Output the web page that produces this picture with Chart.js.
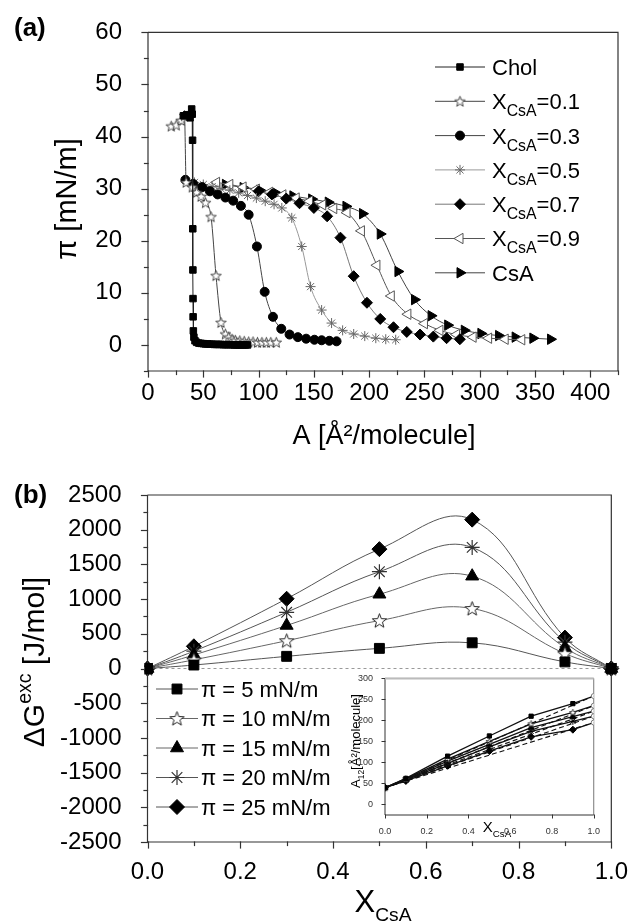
<!DOCTYPE html>
<html>
<head>
<meta charset="utf-8">
<script src="https://cdn.jsdelivr.net/npm/chart.js@4.4.0/dist/chart.umd.min.js"></script>
<style>
    body { margin: 0; background: #fff; }
    #wrap { position: relative; width: 636px; height: 923px; overflow: hidden; background: #fff; }
    #wrap canvas { position: absolute; }
</style>
</head>
<body>
<div id="wrap">
    <canvas id="chartA" width="636" height="460" style="left:0;top:0"></canvas>
    <canvas id="chartB" width="636" height="463" style="left:0;top:460px"></canvas>
    <canvas id="chartInset" width="268" height="171" style="left:335px;top:669px"></canvas>
</div>
<script>
const fontFam = '"Liberation Sans", Arial, Helvetica, sans-serif';

// ---- (a) isotherms, pairs of [A (Å²/molecule), π (mN/m)] ----
const isoChol = [[32, 44.0], [35, 44.2], [38, 43.6], [39.5, 45.3], [40, 44.3], [40.3, 39.3], [40.5, 22.3],
    [40.6, 14.4], [40.7, 8.9], [40.8, 5.4], [41, 2.7], [41.5, 1.5], [42.5, 0.8], [44, 0.5], [46, 0.35],
    [48, 0.3], [50, 0.25], [52, 0.2], [54, 0.2], [56, 0.15], [58, 0.15], [60, 0.1], [62, 0.1], [64, 0.1],
    [66, 0.1], [68, 0.05], [70, 0.05], [72, 0.05], [74, 0.05], [76, 0.05], [78, 0], [80, 0], [82, 0],
    [84, 0], [86, 0], [88, 0], [90, 0]];
const isoX01 = [[21, 42.0], [25.5, 42.2], [30, 43.1], [33, 44.0], [34.5, 31.2], [40, 30.3], [44, 29.3],
    [48, 28.5], [52, 27.3], [57, 24.6], [61.5, 13.3], [66, 4.3], [70, 2.1], [73, 1.5], [76, 1.1], [79, 0.9],
    [83, 0.8], [87, 0.7], [91, 0.6], [95, 0.6], [99, 0.5], [103, 0.5], [107, 0.5], [111, 0.5], [116, 0.5]];
const isoX03 = [[33.8, 31.7], [41, 30.9], [49, 30.3], [56, 29.5], [63, 28.9], [70, 28.3], [77, 27.7],
    [84, 26.7], [91, 25.0], [98.5, 18.9], [105.5, 10.2], [113, 5.4], [120.5, 3.1], [128, 2.0], [135.5, 1.5],
    [143, 1.2], [150.5, 1.0], [157, 0.9], [164, 0.8], [170.5, 0.7]];
const isoX05 = [[42, 31.2], [50, 30.8], [58, 30.4], [66, 30.0], [74, 29.7], [82, 29.2], [90, 28.7],
    [98, 28.2], [106, 27.6], [114, 27.0], [121, 26.3], [130, 24.4], [139, 18.9], [147, 11.2], [157, 6.7],
    [166, 4.2], [176, 2.8], [186, 2.1], [196, 1.7], [206, 1.3], [215, 1.1], [224, 1.0]];
const isoX07 = [[100, 29.5], [112, 28.9], [125, 28.1], [137, 27.2], [150, 26.3], [162, 24.7], [174, 20.6],
    [186, 13.2], [198, 8.1], [210, 5.0], [222, 3.4], [234, 2.5], [246, 2.0], [258, 1.6], [270, 1.3], [282, 1.1]];
const isoX09 = [[62, 31.2], [74, 30.8], [86, 30.3], [98, 29.9], [110, 29.3], [122, 28.8], [134, 28.2],
    [146, 27.6], [158, 26.9], [168, 26.2], [180, 25.4], [193, 21.9], [207, 15.3], [220, 9.4], [235, 5.9],
    [250, 4.1], [264, 2.8], [279, 2.0], [294, 1.5], [308, 1.3], [323, 1.1], [338, 1.0]];
const isoCsA = [[70, 30.8], [86, 30.2], [101, 29.7], [116, 29.1], [131, 28.6], [148, 28.0], [163, 27.4],
    [179, 26.6], [194, 25.2], [210, 21.3], [226, 14.1], [241, 8.7], [256, 5.6], [271, 3.8], [286, 2.8],
    [301, 2.2], [317, 1.8], [332, 1.5], [348, 1.3], [364, 1.1]];
const areaTicks = [0, 50, 100, 150, 200, 250, 300, 350, 400];
const piTicks = [0, 10, 20, 30, 40, 50, 60];

// ---- (b) excess Gibbs energy vs X_CsA ----
const xCsA = [0, 0.1, 0.3, 0.5, 0.7, 0.9, 1.0];
const gExc5 = [0, 50, 175, 290, 370, 95, 0];
const gExc10 = [0, 125, 400, 690, 865, 215, 0];
const gExc15 = [0, 195, 620, 1070, 1330, 300, 0];
const gExc20 = [0, 250, 810, 1395, 1745, 380, 0];
const gExc25 = [0, 320, 1005, 1720, 2145, 445, 0];
const fracTicks = [0, 0.2, 0.4, 0.6, 0.8, 1.0];
const gTicks = [-2500, -2000, -1500, -1000, -500, 0, 500, 1000, 1500, 2000, 2500];

// ---- inset: mean area A12 vs X_CsA (solid = measured, dashed = ideal) ----
const a12_5 = [40, 62, 115, 163, 210, 240, 258];
const a12_10 = [40, 61, 108, 150, 192, 219, 235];
const a12_15 = [40, 59, 103, 143, 183, 209, 222];
const a12_20 = [40, 58, 98, 137, 174, 198, 210];
const a12_25 = [40, 56, 92, 127, 161, 178, 195];
const idealX = [0, 1];
const insetYTicks = [0, 50, 100, 150, 200, 250, 300];
const insetXTicks = [0, 0.2, 0.4, 0.6, 0.8, 1.0];

// legend / title texts; a part is a string or [text, 'sub'|'sup']
const legendA = ['Chol', ['X', ['CsA', 'sub'], '=0.1'], ['X', ['CsA', 'sub'], '=0.3'], ['X', ['CsA', 'sub'], '=0.5'],
    ['X', ['CsA', 'sub'], '=0.7'], ['X', ['CsA', 'sub'], '=0.9'], 'CsA'];
const legendB = ['\u03c0 = 5 mN/m', '\u03c0 = 10 mN/m', '\u03c0 = 15 mN/m', '\u03c0 = 20 mN/m', '\u03c0 = 25 mN/m'];

function starImage(r, fill, stroke, lw) {
    const c = document.createElement('canvas');
    const s = Math.ceil(2 * r + 2 * lw + 2);
    c.width = c.height = s;
    const g = c.getContext('2d');
    g.translate(s / 2, s / 2 + r * 0.08);
    g.beginPath();
    for (let i = 0; i < 10; i++) {
        const rr = i % 2 ? r * 0.42 : r;
        const a = -Math.PI / 2 + i * Math.PI / 5;
        g.lineTo(rr * Math.cos(a), rr * Math.sin(a));
    }
    g.closePath();
    g.fillStyle = fill;
    g.fill();
    g.lineWidth = lw;
    g.strokeStyle = stroke;
    g.stroke();
    return c;
}

function toPoints(xs, ys) {
    return ys.map((y, i) => ({ x: xs[i], y: y }));
}

function series(points, st) {
    return {
        data: points,
        showLine: true,
        borderColor: st.line || '#444',
        borderWidth: st.lineWidth || 1,
        borderDash: st.dash || [],
        pointStyle: st.style,
        pointRadius: st.r || 0,
        pointRotation: st.rot || 0,
        pointBackgroundColor: st.fill || '#000',
        pointBorderColor: st.stroke || '#000',
        pointBorderWidth: st.bw === undefined ? 1 : st.bw,
        tension: st.tension || 0,
        cubicInterpolationMode: st.mono ? 'monotone' : 'default',
        clip: st.clip === undefined ? 0 : st.clip
    };
}

function richDraw(ctx, parts, x, y, size, align, opt) {
    opt = opt || {};
    const list = Array.isArray(parts) ? parts : [parts];
    const subScale = opt.subScale || 0.65;
    const segs = list.map(p => typeof p === 'string' ? { t: p, m: '' } : { t: p[0], m: p[1] });
    const fontOf = s => (opt.bold ? 'bold ' : '') + (s.m ? size * subScale : size) + 'px ' + fontFam;
    let w = 0;
    segs.forEach(s => {
        ctx.font = fontOf(s);
        s.w = ctx.measureText(s.t).width;
        w += s.w;
    });
    let cx = align === 'center' ? x - w / 2 : x;
    ctx.textAlign = 'left';
    ctx.textBaseline = 'alphabetic';
    ctx.fillStyle = opt.color || '#000';
    segs.forEach(s => {
        ctx.font = fontOf(s);
        const dy = s.m === 'sub' ? size * (opt.subDrop || 0.3) : s.m === 'sup' ? -size * 0.42 : 0;
        ctx.fillText(s.t, cx, y + dy);
        cx += s.w;
    });
}

function drawText(chart, items) {
    const ctx = chart.ctx;
    items.forEach(it => {
        ctx.save();
        ctx.translate(it.x, it.y);
        if (it.rotate) ctx.rotate(it.rotate);
        richDraw(ctx, it.parts, 0, 0, it.size, it.align || 'center', it);
        ctx.restore();
    });
}

function drawFrame(chart, o) {
    const { ctx, chartArea: a, scales } = chart;
    ctx.save();
    ctx.lineWidth = o.width || 1.2;
    ctx.strokeStyle = o.color || '#333';
    ctx.lineCap = 'square';
    ['x', 'y'].forEach(id => {
        const s = scales[id];
        const vals = s.ticks.map(t => t.value);
        const step = vals[1] - vals[0];
        const marks = vals.map(v => [v, o.major]);
        if (o.minor) {
            for (let v = vals[0] - step / 2; v <= s.max + 1e-9; v += step) {
                if (v >= s.min - 1e-9) marks.push([v, o.minor]);
            }
        }
        marks.forEach(([v, len]) => {
            const p = Math.round(s.getPixelForValue(v)) + 0.5;
            ctx.beginPath();
            if (id === 'x') {
                ctx.moveTo(p, a.bottom);
                ctx.lineTo(p, a.bottom + len);
            } else {
                ctx.moveTo(a.left, p);
                ctx.lineTo(a.left - len, p);
            }
            ctx.stroke();
        });
    });
    ctx.lineCap = 'butt';
    ctx.strokeStyle = o.sideColor || ctx.strokeStyle;
    ctx.beginPath();
    ctx.moveTo(a.left, a.top);
    ctx.lineTo(a.right, a.top);
    ctx.lineTo(a.right, a.bottom);
    ctx.stroke();
    ctx.strokeStyle = o.color || '#333';
    ctx.beginPath();
    ctx.moveTo(a.left, a.top);
    ctx.lineTo(a.left, a.bottom);
    ctx.lineTo(a.right, a.bottom);
    ctx.stroke();
    if (o.topColor) {
        ctx.strokeStyle = o.topColor;
        ctx.lineWidth = 2;
        ctx.beginPath();
        ctx.moveTo(a.left, a.top);
        ctx.lineTo(a.right, a.top);
        ctx.stroke();
    }
    ctx.restore();
}

function drawLegend(chart, labels, lg) {
    const ctx = chart.ctx;
    labels.forEach((lab, i) => {
        const ds = chart.data.datasets[i];
        const y = lg.y0 + i * lg.dy;
        ctx.save();
        ctx.strokeStyle = ds.borderColor;
        ctx.lineWidth = 1;
        ctx.beginPath();
        ctx.moveTo(lg.x0, y);
        ctx.lineTo(lg.x1, y);
        ctx.stroke();
        ctx.fillStyle = ds.pointBackgroundColor;
        ctx.strokeStyle = ds.pointBorderColor;
        ctx.lineWidth = ds.pointBorderWidth;
        Chart.helpers.drawPoint(ctx, {
            pointStyle: ds.pointStyle,
            rotation: ds.pointRotation,
            radius: lg.r || ds.pointRadius,
            borderWidth: ds.pointBorderWidth
        }, (lg.x0 + lg.x1) / 2, y);
        ctx.restore();
        richDraw(chart.ctx, lab, lg.tx, y + lg.size * 0.36, lg.size, 'left', { subScale: 0.72, subDrop: 0.32 });
    });
}

function linAxis(min, max, ticks, opt) {
    return {
        type: 'linear',
        min: min,
        max: max,
        afterBuildTicks: s => { s.ticks = ticks.map(v => ({ value: v })); },
        afterFit: opt.fit,
        grid: { display: false },
        border: { display: false },
        ticks: {
            font: { family: fontFam, size: opt.size },
            color: opt.color || '#000',
            padding: opt.pad,
            maxRotation: 0,
            autoSkip: false,
            callback: opt.fmt || (v => String(v))
        }
    };
}

const baseOpts = {
    responsive: false,
    animation: false,
    events: [],
    plugins: { legend: { display: false }, tooltip: { enabled: false } }
};

// ---------- panel (a) ----------
new Chart(document.getElementById('chartA'), {
    type: 'scatter',
    data: {
        datasets: [
            series(toPoints(isoChol.map(p => p[0]), isoChol.map(p => p[1])),
                { style: 'rect', r: 4.6, line: '#222' }),
            series(toPoints(isoX01.map(p => p[0]), isoX01.map(p => p[1])),
                { style: starImage(5.5, '#fff', '#333', 0.9), r: 5, line: '#444', mono: true }),
            series(toPoints(isoX03.map(p => p[0]), isoX03.map(p => p[1])),
                { style: 'circle', r: 4.5, line: '#444', mono: true }),
            series(toPoints(isoX05.map(p => p[0]), isoX05.map(p => p[1])),
                { style: 'star', r: 5, stroke: '#666', line: '#999', mono: true }),
            series(toPoints(isoX07.map(p => p[0]), isoX07.map(p => p[1])),
                { style: 'rectRot', r: 5.5, line: '#777', mono: true }),
            series(toPoints(isoX09.map(p => p[0]), isoX09.map(p => p[1])),
                { style: 'triangle', rot: -90, r: 6, fill: '#fff', stroke: '#555', line: '#555', mono: true }),
            series(toPoints(isoCsA.map(p => p[0]), isoCsA.map(p => p[1])),
                { style: 'triangle', rot: 90, r: 6, line: '#444', mono: true })
        ]
    },
    options: Object.assign({}, baseOpts, {
        layout: { padding: { top: 25, right: 18, bottom: 0, left: 0 } },
        scales: {
            x: linAxis(0, 425, areaTicks, { size: 24, pad: 0, fit: s => { s.height = 89; } }),
            y: linAxis(-5, 60, piTicks, { size: 24, pad: 18, fit: s => { s.width = 148; } })
        }
    }),
    plugins: [{
        id: 'decorA',
        beforeDatasetsDraw: chart => drawFrame(chart, { major: 6, minor: 3.5 }),
        afterDraw: chart => {
            drawLegend(chart, legendA, { x0: 435, x1: 485, tx: 492, y0: 67, dy: 34.3, size: 22 });
            drawText(chart, [
                { parts: '(a)', x: 14, y: 36, size: 26, bold: true, align: 'left' },
                { parts: '\u03c0 [mN/m]', x: 76, y: 199, size: 29, rotate: -Math.PI / 2 },
                { parts: 'A [\u00c5\u00b2/molecule]', x: 384, y: 444, size: 27 }
            ]);
        }
    }]
});

// ---------- panel (b) ----------
const edgeClip = { left: 3, right: 10, top: 20, bottom: 0 };
new Chart(document.getElementById('chartB'), {
    type: 'scatter',
    data: {
        datasets: [
            series(toPoints(xCsA, gExc5), { style: 'rect', r: 7, line: '#555', tension: 0.4, clip: edgeClip }),
            series(toPoints(xCsA, gExc10), { style: starImage(7.5, '#fff', '#222', 1), r: 7, line: '#666', tension: 0.4, clip: edgeClip }),
            series(toPoints(xCsA, gExc15), { style: 'triangle', r: 7.5, line: '#666', tension: 0.4, clip: edgeClip }),
            series(toPoints(xCsA, gExc20), { style: 'star', r: 7.5, stroke: '#333', bw: 1.2, line: '#555', tension: 0.4, clip: edgeClip }),
            series(toPoints(xCsA, gExc25), { style: 'rectRot', r: 7.5, line: '#555', tension: 0.4, clip: edgeClip }),
            series(toPoints([0, 1], [0, 0]), { line: '#999', dash: [3, 3] })
        ]
    },
    options: Object.assign({}, baseOpts, {
        layout: { padding: { top: 35, right: 18, bottom: 0, left: 0 } },
        scales: {
            x: linAxis(0, 1, fracTicks, { size: 24, pad: 8, fmt: v => v.toFixed(1), fit: s => { s.height = 81; } }),
            y: linAxis(-2500, 2500, gTicks, { size: 24, pad: 18, fit: s => { s.width = 147.5; } })
        }
    }),
    plugins: [{
        id: 'decorB',
        beforeDatasetsDraw: chart => drawFrame(chart, { major: 6, minor: 3.5 }),
        afterDraw: chart => {
            drawLegend(chart, legendB, { x0: 156, x1: 198, tx: 201, y0: 229, dy: 29.5, size: 22 });
            drawText(chart, [
                { parts: '(b)', x: 14, y: 43, size: 26, bold: true, align: 'left' },
                { parts: ['\u0394G', ['exc', 'sup'], ' [J/mol]'], x: 44, y: 202, size: 30, rotate: -Math.PI / 2 },
                { parts: ['X', ['CsA', 'sub']], x: 383, y: 452, size: 31, subScale: 0.62 }
            ]);
        }
    }]
});

// ---------- inset ----------
const insetMarks = ['rect', starImage(3.6, '#fff', '#222', 0.8), 'triangle', 'star', 'rectRot'];
const insetRows = [a12_5, a12_10, a12_15, a12_20, a12_25];
const insetSets = [];
insetRows.forEach((row, i) => {
    const ds = series(toPoints(xCsA, row), { style: insetMarks[i], r: i === 0 ? 3 : 3.5, line: '#111', lineWidth: 1.3 });
    const last = row.length - 1;
    ds.pointStyle = c => c.dataIndex === last ? 'circle' : insetMarks[i];
    ds.pointBackgroundColor = c => c.dataIndex === last ? '#fff' : '#000';
    ds.pointBorderColor = c => c.dataIndex === last ? '#777' : '#000';
    ds.pointRadius = c => c.dataIndex === last ? 2.5 : (i === 0 ? 3 : 3.5);
    insetSets.push(ds);
    insetSets.push(series(toPoints(idealX, [row[0], row[last]]), { line: '#111', lineWidth: 1.1, dash: [5, 3] }));
});

new Chart(document.getElementById('chartInset'), {
    type: 'scatter',
    data: { datasets: insetSets },
    options: Object.assign({}, baseOpts, {
        layout: { padding: { top: 5, right: 7.5, bottom: 0, left: 0 } },
        scales: {
            x: linAxis(0, 1, insetXTicks, { size: 9, pad: 3, color: '#333', fmt: v => v.toFixed(1), fit: s => { s.height = 25; } }),
            y: linAxis(-25, 300, insetYTicks, { size: 9, pad: 4, color: '#333', fit: s => { s.width = 50; } })
        }
    }),
    plugins: [{
        id: 'decorInset',
        beforeDraw: chart => {
            const ctx = chart.ctx;
            ctx.save();
            ctx.fillStyle = '#fff';
            ctx.fillRect(0, 0, chart.width, chart.height);
            ctx.restore();
        },
        beforeDatasetsDraw: chart => drawFrame(chart, { major: 3, minor: 0, width: 1, color: '#333', sideColor: '#777', topColor: '#bbb' }),
        afterDraw: chart => drawText(chart, [
            { parts: ['A', ['12', 'sub'], '[\u00c5\u00b2/molecule]'], x: 25, y: 72, size: 13, rotate: -Math.PI / 2 },
            { parts: ['X', ['CsA', 'sub']], x: 162, y: 163, size: 15 }
        ])
    }]
});
</script>
</body>
</html>
